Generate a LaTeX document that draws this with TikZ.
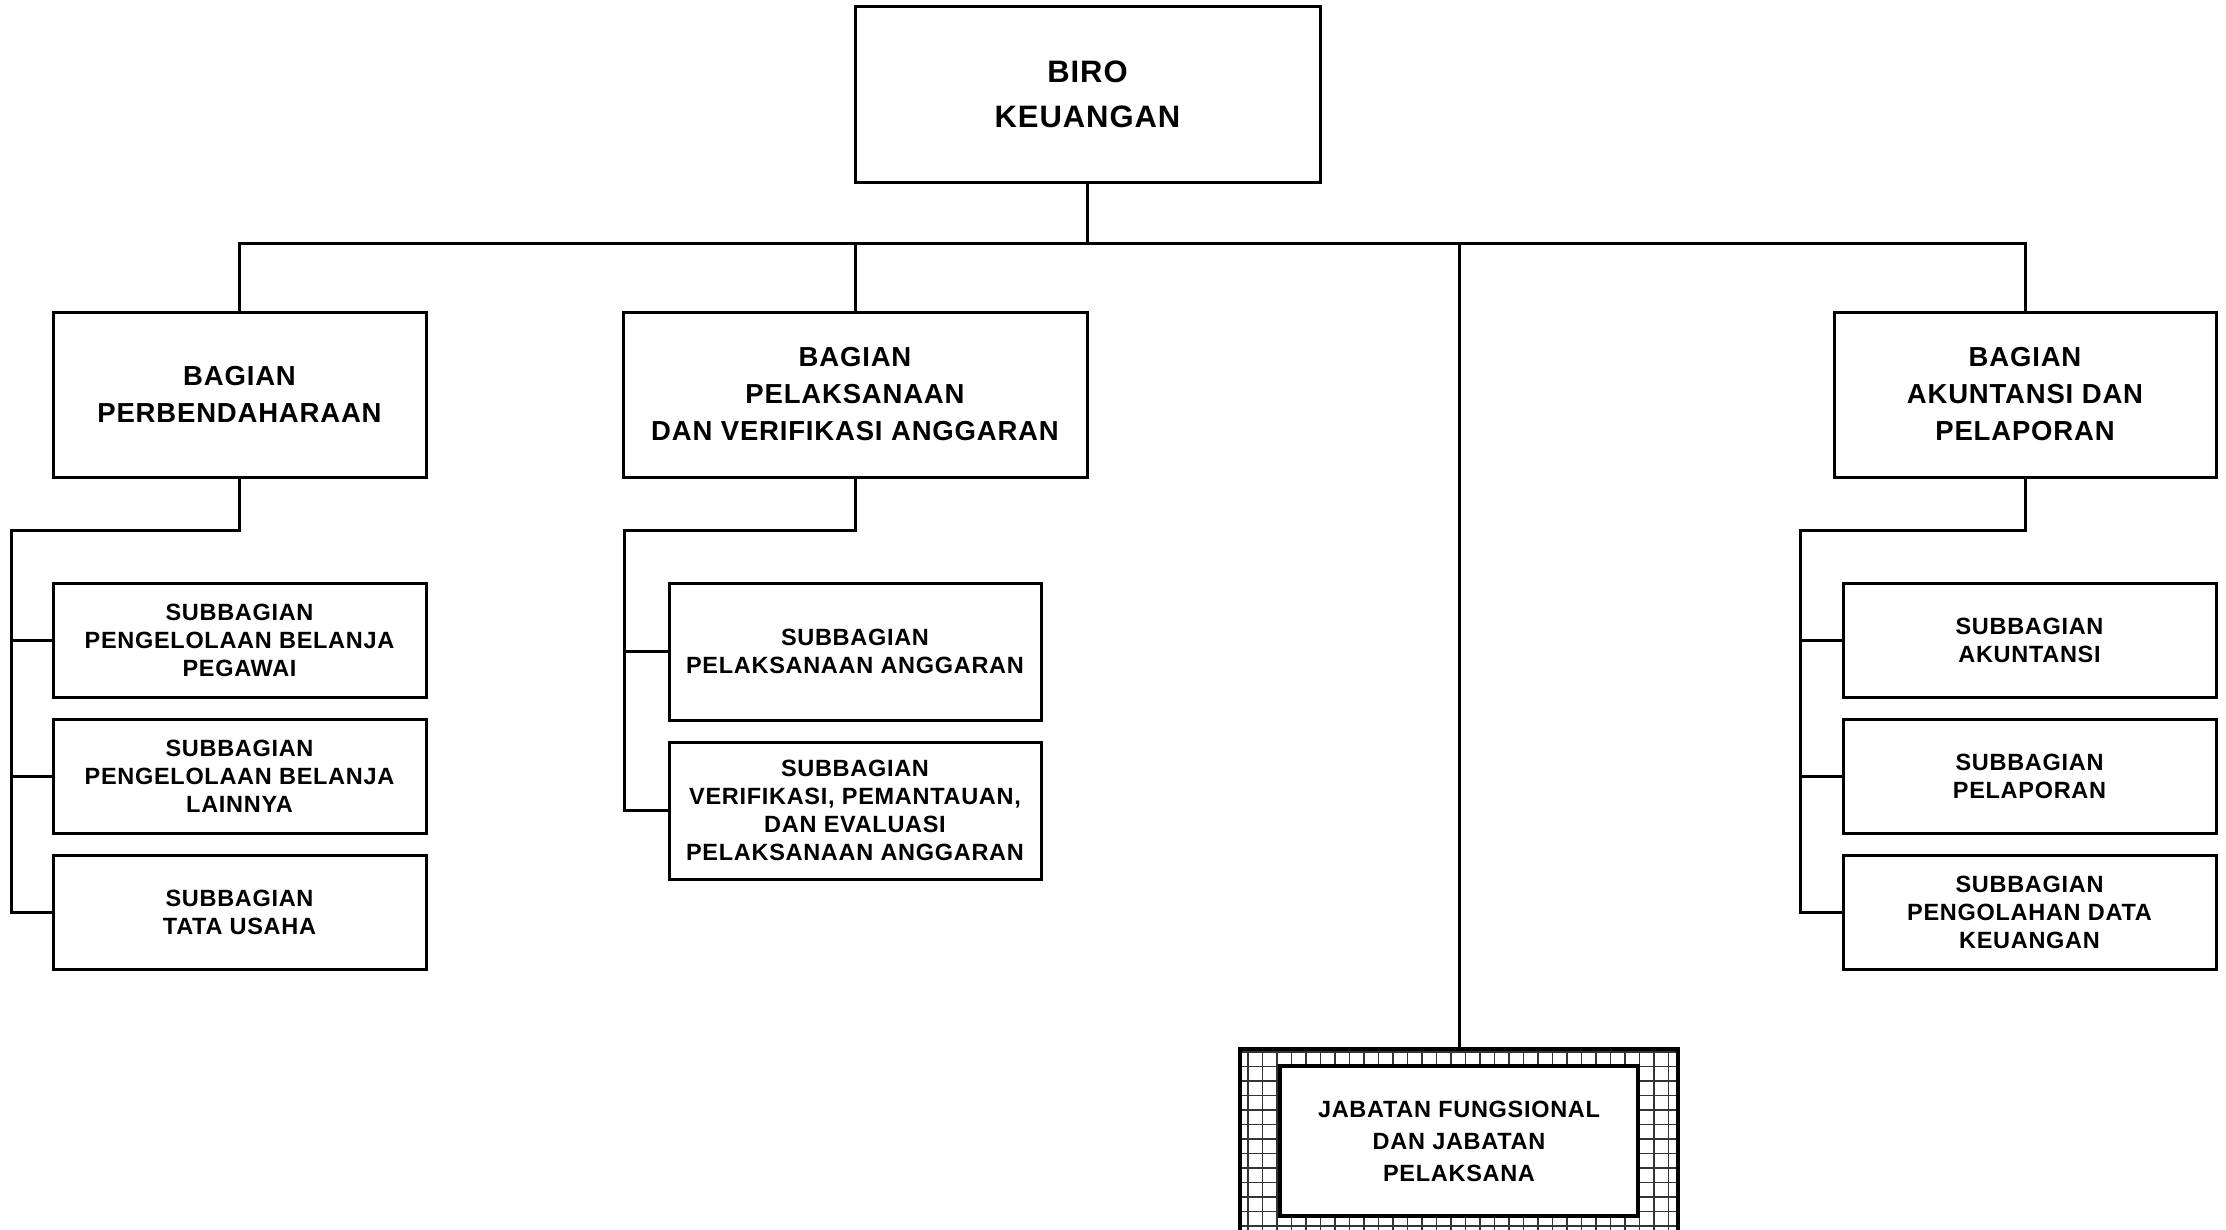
\documentclass[tikz,border=0pt]{standalone}
\usepackage{fontspec}
\setmainfont{Liberation Sans}
\newfontfamily\orgfont[LetterSpace=3]{Liberation Sans}
\begin{document}
\begin{tikzpicture}[x=1pt,y=-1pt,
  orgbox/.style={draw, line width=3pt, fill=white, inner sep=0pt, align=center},
  topbox/.style={orgbox, font={\orgfont\bfseries\fontsize{31}{45}\selectfont}},
  headbox/.style={orgbox, font={\orgfont\bfseries\fontsize{27.5}{37}\selectfont}},
  subbox/.style={orgbox, font={\orgfont\bfseries\fontsize{23.5}{28}\selectfont}},
  jfbox/.style={orgbox, line width=4.5pt, font={\orgfont\bfseries\fontsize{23.5}{32}\selectfont}},
  wire/.style={line width=3pt, line cap=rect},
  gridline/.style={line width=1.8pt, black!80}]

\path[use as bounding box, clip] (0,0) rectangle (2226,1229);
\fill[white] (0,0) rectangle (2226,1229);

% head of the bureau
\node[topbox, minimum width=465, minimum height=176] (biro) at (1087.5,94) {BIRO\\KEUANGAN};

% divisions
\node[headbox, minimum width=373, minimum height=165] (bag1) at (239.5,394.5) {BAGIAN\\PERBENDAHARAAN};
\node[headbox, minimum width=464, minimum height=165] (bag2) at (855,394.5) {BAGIAN\\PELAKSANAAN\\DAN VERIFIKASI ANGGARAN};
\node[headbox, minimum width=382, minimum height=165] (bag3) at (2025,394.5) {BAGIAN\\AKUNTANSI DAN\\PELAPORAN};

% sub-divisions, left column
\node[subbox, minimum width=373, minimum height=114] (s11) at (239.5,640.5) {SUBBAGIAN\\PENGELOLAAN BELANJA\\PEGAWAI};
\node[subbox, minimum width=373, minimum height=114] (s12) at (239.5,776.5) {SUBBAGIAN\\PENGELOLAAN BELANJA\\LAINNYA};
\node[subbox, minimum width=373, minimum height=114] (s13) at (239.5,912.5) {SUBBAGIAN\\TATA USAHA};

% sub-divisions, middle column
\node[subbox, minimum width=372, minimum height=137] (s21) at (855,651.5) {SUBBAGIAN\\PELAKSANAAN ANGGARAN};
\node[subbox, minimum width=372, minimum height=137] (s22) at (855,810.5) {SUBBAGIAN\\VERIFIKASI, PEMANTAUAN,\\DAN EVALUASI\\PELAKSANAAN ANGGARAN};

% sub-divisions, right column
\node[subbox, minimum width=373, minimum height=114] (s31) at (2029.5,640.5) {SUBBAGIAN\\AKUNTANSI};
\node[subbox, minimum width=373, minimum height=114] (s32) at (2029.5,776.5) {SUBBAGIAN\\PELAPORAN};
\node[subbox, minimum width=373, minimum height=114] (s33) at (2029.5,912.5) {SUBBAGIAN\\PENGOLAHAN DATA\\KEUANGAN};

% functional positions: hatched frame with an inner box
\node[draw=none, minimum width=438, minimum height=240, inner sep=0pt] (jfo) at (1459,1169) {};
\begin{scope}
  \clip (jfo.south west) rectangle (jfo.north east);
  \foreach \gx in {1248,1262.5,...,1690} \draw[gridline] (\gx,1040) -- (\gx,1300);
  \foreach \gy in {1052,1066.5,...,1300} \draw[gridline] (1230,\gy) -- (1690,\gy);
\end{scope}
\draw[line width=4pt] (jfo.south west) rectangle (jfo.north east);
\node[jfbox, minimum width=358, minimum height=150] (jf) at (1459,1141) {JABATAN FUNGSIONAL\\DAN JABATAN\\PELAKSANA};

% main bus
\coordinate (bus) at (0,243);
\draw[wire] (biro.south) -- (biro.south |- bus);
\draw[wire] (bag1.north) -- (bag1.north |- bus) -- (bag3.north |- bus) -- (bag3.north);
\draw[wire] (bag2.north) -- (bag2.north |- bus);
\draw[wire] (jfo.north) -- (jfo.north |- bus);

% left branch
\coordinate (lb) at (11,530);
\draw[wire] (bag1.south) |- (lb) -- (lb |- s13.west) -- (s13.west);
\draw[wire] (lb |- s11.west) -- (s11.west);
\draw[wire] (lb |- s12.west) -- (s12.west);

% middle branch
\coordinate (mb) at (624,530);
\draw[wire] (bag2.south) |- (mb) -- (mb |- s22.west) -- (s22.west);
\draw[wire] (mb |- s21.west) -- (s21.west);

% right branch
\coordinate (rb) at (1800,530);
\draw[wire] (bag3.south) |- (rb) -- (rb |- s33.west) -- (s33.west);
\draw[wire] (rb |- s31.west) -- (s31.west);
\draw[wire] (rb |- s32.west) -- (s32.west);
\end{tikzpicture}
\end{document}
